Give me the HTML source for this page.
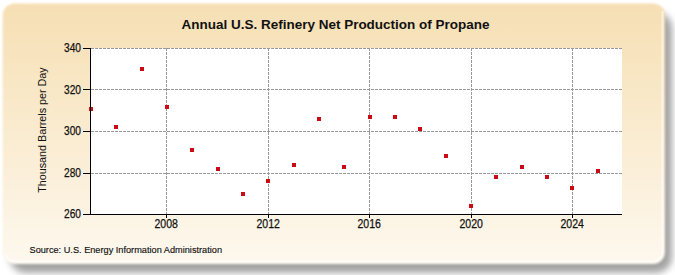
<!DOCTYPE html>
<html><head><meta charset="utf-8"><style>
html,body{margin:0;padding:0;background:#fff;}
svg{display:block;font-family:"Liberation Sans",sans-serif;}
</style></head><body>
<svg width="675" height="275" viewBox="0 0 675 275">
<defs>
<linearGradient id="bg" x1="0" y1="0" x2="0" y2="1">
<stop offset="0" stop-color="#F6DFB3"/>
<stop offset="1" stop-color="#FEF8EE"/>
</linearGradient>
<filter id="sh" x="-10%" y="-10%" width="120%" height="120%"><feGaussianBlur stdDeviation="3.8"/></filter>
<filter id="soft" x="-5%" y="-5%" width="110%" height="110%"><feGaussianBlur stdDeviation="1"/></filter>
</defs>
<rect x="9.7" y="12.2" width="662.3" height="260.6" rx="16" fill="#a2a2a2" filter="url(#sh)"/>
<rect x="2.7" y="3.4" width="662.3" height="260.6" rx="12" fill="url(#bg)" filter="url(#soft)"/>
<path d="M662.5 11 V251.3 A10 10 0 0 1 652.5 261.3 H14.5 A10 10 0 0 1 5 254" fill="none" stroke="#fff" stroke-opacity="0.5" stroke-width="2.2"/>
<rect x="91" y="48" width="531" height="166" fill="#fff"/>
<g stroke="#999" stroke-width="1" stroke-dasharray="3 1">
<line x1="91" y1="48.5" x2="622" y2="48.5"/><line x1="91" y1="89.5" x2="622" y2="89.5"/><line x1="91" y1="131.5" x2="622" y2="131.5"/><line x1="91" y1="173.5" x2="622" y2="173.5"/><line x1="166.5" y1="48" x2="166.5" y2="214"/><line x1="268.5" y1="48" x2="268.5" y2="214"/><line x1="369.5" y1="48" x2="369.5" y2="214"/><line x1="471.5" y1="48" x2="471.5" y2="214"/><line x1="572.5" y1="48" x2="572.5" y2="214"/>
</g>

<g font-size="12" fill="#111" stroke="#111" stroke-width="0.25">
<text x="81" y="52.30" text-anchor="end" textLength="17" lengthAdjust="spacingAndGlyphs">340</text><text x="81" y="93.80" text-anchor="end" textLength="17" lengthAdjust="spacingAndGlyphs">320</text><text x="81" y="135.30" text-anchor="end" textLength="17" lengthAdjust="spacingAndGlyphs">300</text><text x="81" y="176.80" text-anchor="end" textLength="17" lengthAdjust="spacingAndGlyphs">280</text><text x="81" y="218.30" text-anchor="end" textLength="17" lengthAdjust="spacingAndGlyphs">260</text><text x="154.5" y="228" textLength="23.4" lengthAdjust="spacingAndGlyphs">2008</text><text x="256.5" y="228" textLength="23.4" lengthAdjust="spacingAndGlyphs">2012</text><text x="357.5" y="228" textLength="23.4" lengthAdjust="spacingAndGlyphs">2016</text><text x="459.5" y="228" textLength="23.4" lengthAdjust="spacingAndGlyphs">2020</text><text x="560.5" y="228" textLength="23.4" lengthAdjust="spacingAndGlyphs">2024</text>
</g>
<g fill="#CC0A14">
<rect x="89" y="107" width="4" height="4"/><rect x="114" y="125" width="4" height="4"/><rect x="140" y="67" width="4" height="4"/><rect x="165" y="105" width="4" height="4"/><rect x="190" y="148" width="4" height="4"/><rect x="216" y="167" width="4" height="4"/><rect x="241" y="192" width="4" height="4"/><rect x="266" y="179" width="4" height="4"/><rect x="292" y="163" width="4" height="4"/><rect x="317" y="117" width="4" height="4"/><rect x="342" y="165" width="4" height="4"/><rect x="368" y="115" width="4" height="4"/><rect x="393" y="115" width="4" height="4"/><rect x="418" y="127" width="4" height="4"/><rect x="444" y="154" width="4" height="4"/><rect x="469" y="204" width="4" height="4"/><rect x="494" y="175" width="4" height="4"/><rect x="520" y="165" width="4" height="4"/><rect x="545" y="175" width="4" height="4"/><rect x="570" y="186" width="4" height="4"/><rect x="596" y="169" width="4" height="4"/>
</g>
<g stroke="#000" stroke-width="1">
<line x1="90.5" y1="48" x2="90.5" y2="214.5"/>
<line x1="90" y1="214.5" x2="622" y2="214.5"/>
<line x1="83" y1="48.5" x2="91" y2="48.5"/><line x1="83" y1="89.5" x2="91" y2="89.5"/><line x1="83" y1="131.5" x2="91" y2="131.5"/><line x1="83" y1="173.5" x2="91" y2="173.5"/><line x1="83" y1="214.5" x2="91" y2="214.5"/><line x1="166.5" y1="214" x2="166.5" y2="218"/><line x1="268.5" y1="214" x2="268.5" y2="218"/><line x1="369.5" y1="214" x2="369.5" y2="218"/><line x1="471.5" y1="214" x2="471.5" y2="218"/><line x1="572.5" y1="214" x2="572.5" y2="218"/>
</g>
<text x="181.5" y="28.7" textLength="308" lengthAdjust="spacingAndGlyphs" font-weight="bold" font-size="13.4" fill="#111">Annual U.S. Refinery Net Production of Propane</text>
<text transform="translate(46.1,192.8) rotate(-90)" textLength="125.5" lengthAdjust="spacingAndGlyphs" font-size="11" fill="#111">Thousand Barrels per Day</text>
<text x="29.5" y="252.8" font-size="9.2" fill="#111" stroke="#111" stroke-width="0.15">Source: U.S. Energy Information Administration</text>
</svg>
</body></html>
